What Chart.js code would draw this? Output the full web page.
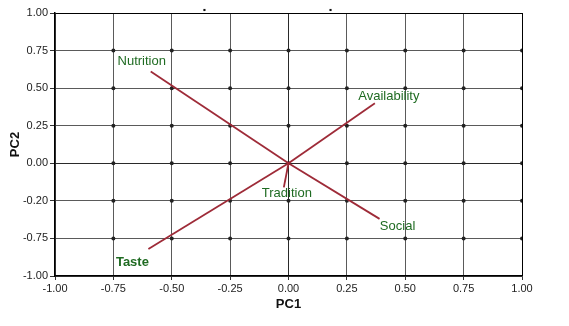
<!DOCTYPE html>
<html>
<head>
<meta charset="utf-8">
<script src="https://cdn.jsdelivr.net/npm/chart.js@4"></script>
<style>
  body { margin: 0; background: #fff; }
</style>
</head>
<body>
<canvas id="biplot" width="569" height="326"></canvas>
<script>
// loadings for each variable (PC1, PC2)
const variables = ['Nutrition', 'Availability', 'Tradition', 'Social', 'Taste'];
const pc1 = [-0.59, 0.37, -0.02, 0.39, -0.60];
const pc2 = [0.61, 0.40, -0.16, -0.37, -0.57];

// axis ticks (y labels below zero are printed as in the original)
const xTicks = [-1, -0.75, -0.5, -0.25, 0, 0.25, 0.5, 0.75, 1];
const xTickLabels = ['-1.00', '-0.75', '-0.50', '-0.25', '0.00', '0.25', '0.50', '0.75', '1.00'];
const yTicks = [-0.75, -0.5, -0.25, 0, 0.25, 0.5, 0.75, 1];
const yTickLabels = ['-1.00', '-0.75', '-0.20', '0.00', '0.25', '0.50', '0.75', '1.00'];

// two stray marks above the top border
const strayX = [-0.36, 0.18];
const strayY = [1.02, 1.02];

const FONT = '"Liberation Sans", Arial, Helvetica, sans-serif';
const lineColor = '#9e2b38';
const labelColor = '#1f6b22';
// pixel offset of each label from the end of its arrow
const labelOffsets = { Nutrition: [-9, -10], Availability: [14, -7], Tradition: [3, 6], Social: [18, 8], Taste: [-16, 13] };
const boldLabels = ['Taste'];

// dots on the grid crossings
const gridDots = [];
xTicks.filter(x => x > -1).forEach(x => {
    yTicks.filter(y => y > -0.75 && y < 1).forEach(y => gridDots.push({ x: x, y: y }));
});

const datasets = variables.map((v, i) => ({
    type: 'line',
    label: v,
    data: [{ x: 0, y: 0 }, { x: pc1[i], y: pc2[i] }],
    borderColor: lineColor,
    borderWidth: 1.8,
    pointRadius: 0,
    order: 1
}));
datasets.push({
    type: 'scatter',
    label: 'dots',
    data: gridDots,
    pointRadius: 2,
    pointBackgroundColor: '#222',
    pointBorderWidth: 0,
    order: 2
});
datasets.push({
    type: 'scatter',
    label: 'marks',
    data: strayX.map((x, i) => ({ x: x, y: strayY[i] })),
    pointStyle: 'rect',
    pointRadius: 1.5,
    pointBackgroundColor: '#111',
    pointBorderWidth: 0,
    clip: false,
    order: 3
});

const varLabels = {
    id: 'varLabels',
    afterDatasetsDraw(chart) {
        const ctx = chart.ctx;
        ctx.save();
        ctx.fillStyle = labelColor;
        ctx.textAlign = 'center';
        ctx.textBaseline = 'middle';
        variables.forEach((v, i) => {
            const pt = chart.getDatasetMeta(i).data[1];
            const off = labelOffsets[v];
            ctx.font = (boldLabels.includes(v) ? 'bold ' : '') + '13px ' + FONT;
            ctx.fillText(v, pt.x + off[0], pt.y + off[1]);
        });
        ctx.restore();
    }
};

function gridColor(ctx, edges) {
    const v = ctx.tick ? ctx.tick.value : null;
    if (v === 0) return '#2a2a2a';
    if (edges.includes(v)) return '#000';
    return '#5a5a5a';
}

new Chart(document.getElementById('biplot'), {
    data: { datasets: datasets },
    plugins: [varLabels],
    options: {
        responsive: false,
        animation: false,
        layout: { padding: { left: 0, right: 47, top: 13, bottom: 0 } },
        plugins: {
            legend: { display: false },
            tooltip: { enabled: false }
        },
        scales: {
            x: {
                type: 'linear',
                min: -1,
                max: 1,
                afterFit: s => { s.height = 50; },
                afterBuildTicks: s => { s.ticks = xTicks.map(v => ({ value: v })); },
                ticks: {
                    callback: v => xTickLabels[xTicks.indexOf(v)],
                    color: '#222',
                    font: { family: FONT, size: 11 },
                    padding: 2,
                    maxRotation: 0
                },
                grid: {
                    color: c => gridColor(c, [1]),
                    lineWidth: 1,
                    tickLength: 4,
                    tickColor: '#333'
                },
                border: { color: '#000', width: 1.5 },
                title: {
                    display: true,
                    text: 'PC1',
                    color: '#111',
                    font: { family: FONT, size: 13, weight: 'bold' },
                    padding: { top: 0, bottom: 14 }
                }
            },
            y: {
                type: 'linear',
                min: -0.75,
                max: 1,
                afterFit: s => { s.width = 55; },
                afterBuildTicks: s => { s.ticks = yTicks.map(v => ({ value: v })); },
                ticks: {
                    callback: v => yTickLabels[yTicks.indexOf(v)],
                    color: '#222',
                    font: { family: FONT, size: 11 },
                    padding: 2
                },
                grid: {
                    color: c => gridColor(c, [1]),
                    lineWidth: 1,
                    tickLength: 5,
                    tickColor: '#333'
                },
                border: { color: '#000', width: 1.5 },
                title: {
                    display: true,
                    text: 'PC2',
                    color: '#111',
                    font: { family: FONT, size: 13, weight: 'bold' },
                    padding: { top: 8, bottom: 0 }
                }
            }
        }
    }
});
</script>
</body>
</html>
